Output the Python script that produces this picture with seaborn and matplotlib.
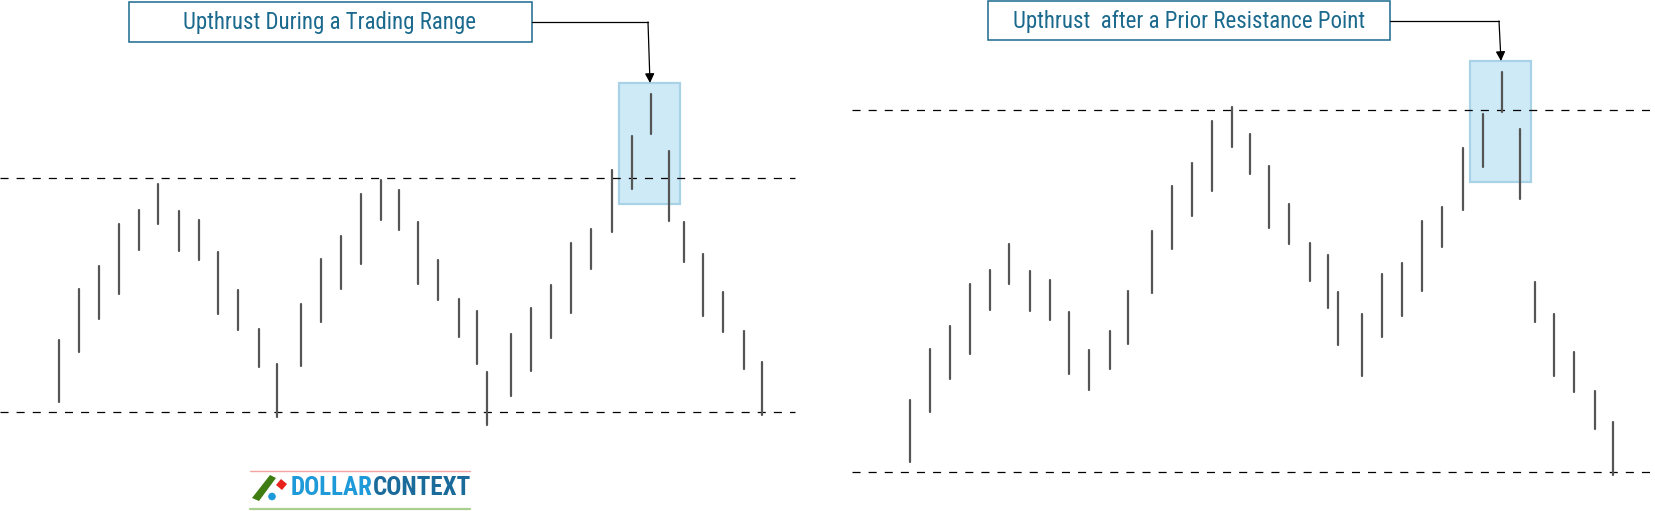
import pandas as pd
import matplotlib.pyplot as plt
import seaborn as sns
from matplotlib import font_manager
from matplotlib.patches import Rectangle, Circle, Polygon

# 左图: Upthrust During a Trading Range (时间位置, 最高价, 最低价)
left_t = [59, 79, 99, 119, 139, 158, 179, 199, 218, 238, 259, 277, 301, 321, 341, 361, 381, 399,
          418, 438, 459, 477, 487, 511, 531, 551, 571, 591, 612, 632, 651, 669, 684, 703, 723, 744, 762]
left_high = [171, 222, 245, 287, 301, 327, 300, 291, 259, 221, 182, 147, 207, 252, 275, 317, 331, 321,
             289, 251, 212, 200, 139, 177, 203, 226, 268, 282, 341, 375, 417, 360, 289, 257, 219, 180, 149]
left_low = [109, 159, 192, 217, 261, 287, 260, 251, 197, 181, 144, 94, 145, 189, 222, 247, 291, 281,
            227, 211, 174, 147, 86, 115, 140, 173, 198, 242, 279, 322, 377, 290, 249, 195, 179, 142, 96]
left_resistance = 333
left_support = 99

# 右图: Upthrust after a Prior Resistance Point
right_t = [910, 930, 950, 970, 990, 1009, 1030, 1050, 1069, 1089, 1110, 1128, 1152, 1172, 1192, 1212,
           1232, 1250, 1269, 1289, 1310, 1328, 1338, 1362, 1382, 1402, 1422, 1442, 1463, 1483, 1502,
           1520, 1535, 1554, 1574, 1595, 1613]
right_high = [111, 162, 185, 227, 241, 267, 240, 231, 199, 161, 180, 220, 280, 325, 348, 390,
              404, 377, 345, 307, 268, 256, 219, 197, 237, 248, 290, 304, 363, 397, 439,
              382, 229, 197, 159, 120, 89]
right_low = [49, 99, 132, 157, 201, 227, 200, 191, 137, 121, 142, 167, 218, 262, 295, 320,
             364, 337, 283, 267, 230, 203, 166, 135, 174, 195, 220, 264, 301, 344, 399,
             312, 189, 135, 119, 82, 36]
right_resistance = 401
right_support = 39

titles = ['Upthrust During a Trading Range', 'Upthrust  after a Prior Resistance Point']


def build_frame():
    """把每根K线拆成两点(高/低)，用 units 画成竖线"""
    rows = []
    bar_id = 0
    for ts, hs, ls in [(left_t, left_high, left_low), (right_t, right_high, right_low)]:
        for t, h, l in zip(ts, hs, ls):
            rows.append({'bar': bar_id, 't': t, 'price': h})
            rows.append({'bar': bar_id, 't': t, 'price': l})
            bar_id += 1
    return pd.DataFrame(rows)


def has_font(name):
    try:
        font_manager.findfont(font_manager.FontProperties(family=name), fallback_to_default=False)
        return True
    except Exception:
        return False


sns.set_theme(style='white')
plt.rcParams['lines.scale_dashes'] = False

# 原图用的是窄体字, 有窄体就用窄体, 否则用 Roboto 并缩小字号
if has_font('Roboto Condensed'):
    title_font, title_size, logo_size = 'Roboto Condensed', 16.5, 18
else:
    title_font, title_size, logo_size = 'Roboto', 13.5, 15.5
plt.rcParams['font.family'] = [title_font, 'DejaVu Sans']

fig = plt.figure(figsize=(16.56, 5.11), dpi=100)
ax = fig.add_axes([0, 0, 1, 1])

df = build_frame()
sns.lineplot(data=df, x='t', y='price', units='bar', estimator=None, sort=False,
             color='#555555', linewidth=1.6, ax=ax, zorder=3)

dash = (0, (5.8, 5.8))
ax.plot([0, 795], [left_resistance] * 2, color='black', lw=0.9, linestyle=dash, zorder=2)
ax.plot([0, 795], [left_support] * 2, color='black', lw=0.9, linestyle=dash, zorder=2)
ax.plot([852, 1656], [right_resistance] * 2, color='black', lw=0.9, linestyle=dash, zorder=2)
ax.plot([852, 1656], [right_support] * 2, color='black', lw=0.9, linestyle=dash, zorder=2)

# 高亮框
for x0, y0 in [(619, 307), (1470, 329)]:
    ax.add_patch(Rectangle((x0, y0), 61, 121, facecolor='#cdeaf6', edgecolor='#a9d2e6',
                           lw=1.6, zorder=1))

# 标题框 + 连接箭头
title_color = '#1b6a8e'
boxes = [(129, 469, 403, 40, 330, 489, 648, 489, 650, 428),
         (988, 471, 402, 39, 1189, 490, 1499, 490, 1501, 450)]
for (bx, by, bw, bh, tx, ty, cx, cy, ax_x, ax_y), title in zip(boxes, titles):
    ax.add_patch(Rectangle((bx, by), bw, bh, facecolor='white', edgecolor=title_color,
                           lw=1.1, zorder=4))
    ax.text(tx, ty, title, ha='center', va='center', fontsize=title_size, color=title_color,
            fontweight='normal', zorder=5)
    ax.plot([bx + bw, cx], [cy, cy], color='black', lw=0.9, zorder=4)
    ax.annotate('', xy=(ax_x, ax_y), xytext=(cx, cy),
                arrowprops=dict(arrowstyle='-|>', color='black', lw=0.9,
                                mutation_scale=14, shrinkA=0, shrinkB=0), zorder=4)

# 水印 logo
ax.plot([250, 470], [40.5, 40.5], color='#f4a3a3', lw=1.0)
ax.plot([250, 470], [2.5, 2.5], color='#a8cf8e', lw=1.6)
ax.add_patch(Polygon([[252, 13], [259, 10], [276, 33], [270, 36]], closed=True,
                     facecolor='#3f7d12', edgecolor='none'))
ax.add_patch(Polygon([[276, 26], [282, 21], [287, 27], [281, 32]], closed=True,
                     facecolor='#e8221b', edgecolor='none'))
ax.add_patch(Circle((272, 14.5), 3.8, facecolor='#1e9ad8', edgecolor='none'))
t1 = ax.text(291, 23, 'DOLLAR', ha='left', va='center', fontsize=logo_size, fontweight='bold',
             color='#1e9ad8')
ax.annotate('CONTEXT', xy=(1, 0), xycoords=t1, ha='left', va='bottom', fontsize=logo_size,
            fontweight='bold', color='#1b6b9a')

ax.set_xlim(0, 1656)
ax.set_ylim(0, 511)
ax.axis('off')

plt.savefig('out.png', dpi=100)
